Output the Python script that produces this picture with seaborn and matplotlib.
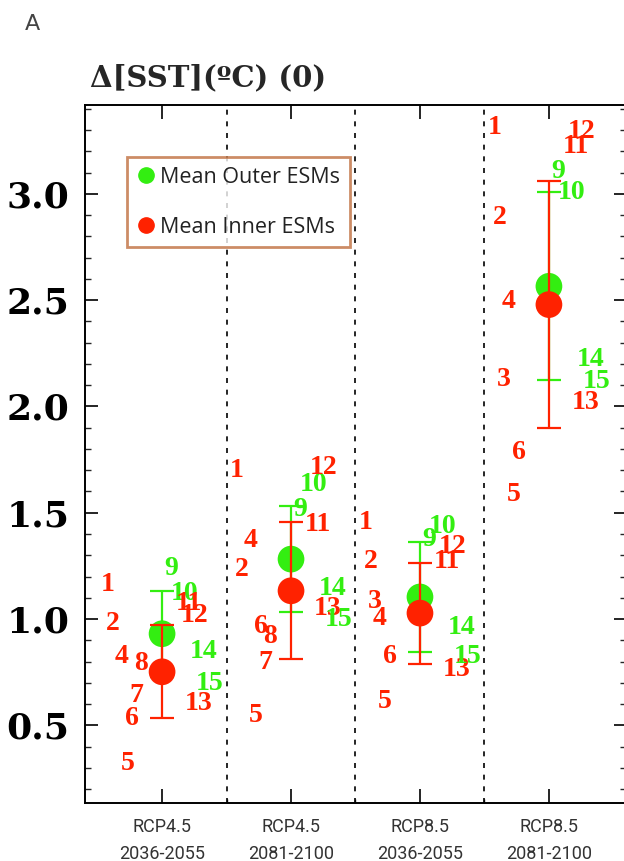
import numpy as np
import pandas as pd
import matplotlib
matplotlib.use("Agg")
import matplotlib.pyplot as plt
import seaborn as sns
from matplotlib.ticker import MultipleLocator, FixedLocator
from matplotlib.lines import Line2D

nan = np.nan

# --- data -------------------------------------------------------------
periods = ["RCP4.5\n2036-2055", "RCP4.5\n2081-2100",
           "RCP8.5\n2036-2055", "RCP8.5\n2081-2100"]

mean_outer = [0.931, 1.282, 1.104, 2.565]
sd_outer = [0.203, 0.248, 0.258, 0.443]
mean_inner = [0.752, 1.133, 1.028, 2.479]
sd_inner = [0.218, 0.323, 0.237, 0.582]

models = list(range(1, 16))
outer_models = [9, 10, 14, 15]

# SST change per ESM (models 1..15) for each period
sst_rcp45_mid = [1.161, 0.981, nan, 0.824, 0.322, 0.531, 0.640, 0.790,
                 1.240, 1.119, 1.072, 1.016, 0.605, 0.848, 0.699]
sst_rcp45_end = [1.699, 1.235, nan, 1.370, 0.545, 0.965, 0.796, 0.918,
                 1.514, 1.632, 1.444, 1.715, 1.052, 1.143, 0.997]
sst_rcp85_mid = [1.455, 1.271, 1.083, 1.005, 0.611, 0.824, nan, nan,
                 1.376, 1.436, 1.271, 1.339, 0.761, 0.962, 0.824]
sst_rcp85_end = [3.311, 2.887, 2.126, 2.495, 1.585, 1.783, nan, nan,
                 3.106, 3.005, 3.224, 3.295, 2.019, 2.220, 2.118]

yticks = [0.5, 1.0, 1.5, 2.0, 2.5, 3.0]

# --- layout / style ---------------------------------------------------
# horizontal placement of each model number around the period centre
label_dx = [-0.422, -0.384, -0.349, -0.315, -0.270, -0.234, -0.199, -0.163,
            0.074, 0.177, 0.208, 0.254, 0.282, 0.326, 0.367]

RED = "#ff2200"
GREEN = "#33ee11"

sns.set_theme(style="white")

fig = plt.figure(figsize=(6.24, 8.61), dpi=100)
ax = fig.add_axes([84.7 / 624, 1 - 803 / 861, (626.3 - 84.7) / 624, (803 - 104.5) / 861])

xpos = np.arange(len(periods))

df = pd.DataFrame({
    "x": np.concatenate([xpos, xpos]),
    "y": mean_outer + mean_inner,
    "group": ["Mean Outer ESMs"] * 4 + ["Mean Inner ESMs"] * 4,
})

# error bars (outer first so the inner bars sit on top)
ax.errorbar(xpos, mean_outer, yerr=sd_outer, fmt="none", ecolor=GREEN,
            elinewidth=1.6, capsize=8.5, capthick=1.6, zorder=3)
sns.scatterplot(data=df[df.group == "Mean Outer ESMs"], x="x", y="y",
                color=GREEN, s=370, edgecolor="none", ax=ax, zorder=4,
                legend=False)
ax.errorbar(xpos, mean_inner, yerr=sd_inner, fmt="none", ecolor=RED,
            elinewidth=1.6, capsize=8.5, capthick=1.6, zorder=5)
sns.scatterplot(data=df[df.group == "Mean Inner ESMs"], x="x", y="y",
                color=RED, s=370, edgecolor="none", ax=ax, zorder=6,
                legend=False)

# model numbers
for i, vals in enumerate([sst_rcp45_mid, sst_rcp45_end, sst_rcp85_mid, sst_rcp85_end]):
    for m, v, dx in zip(models, vals, label_dx):
        if np.isnan(v):
            continue
        ax.text(i + dx, v, str(m), color=GREEN if m in outer_models else RED,
                fontsize=20, fontweight="bold", family="Liberation Serif",
                ha="center", va="center", zorder=7)

# period separators
for xd in [0.5, 1.5, 2.5]:
    ax.axvline(xd, color="black", lw=1.2, ls=(0, (3, 4)), zorder=1)

ax.set_xlim(-0.6, 3.6)
ax.set_ylim(0.135, 3.42)

ax.set_xticks(xpos)
ax.set_xticklabels(periods, fontsize=13, family="Roboto", color="#333333",
                   linespacing=1.6)
ax.xaxis.set_minor_locator(FixedLocator([0.5, 1.5, 2.5]))
ax.set_yticks(yticks)
ax.set_yticklabels(["%.1f" % t for t in yticks], fontsize=26,
                   family="DejaVu Serif", fontweight="bold")
ax.yaxis.set_minor_locator(MultipleLocator(0.1))
ax.set_xlabel("")
ax.set_ylabel("")

ax.tick_params(axis="x", which="major", direction="in", length=10, width=1.2,
               top=True, bottom=True, pad=11, colors="black", labelcolor="#333333")
ax.tick_params(axis="x", which="minor", direction="in", length=3, width=1.0,
               top=False, bottom=True)
ax.tick_params(axis="y", which="major", direction="in", length=9, width=1.2,
               left=True, right=True, pad=11, colors="black")
ax.tick_params(axis="y", which="minor", direction="in", length=4.5, width=1.0,
               left=True, right=True)

for sp in ax.spines.values():
    sp.set_visible(True)
    sp.set_color("black")
    sp.set_linewidth(1.4)

# legend
handles = [
    Line2D([], [], marker="o", ls="none", color=GREEN, markersize=11),
    Line2D([], [], marker="o", ls="none", color=RED, markersize=11),
]
leg = ax.legend(handles, ["Mean Outer ESMs", "Mean Inner ESMs"],
                loc="upper left", bbox_to_anchor=(0.078, 0.925),
                borderaxespad=0, frameon=True, fancybox=False,
                prop={"family": "Open Sans", "size": 15.5},
                labelspacing=1.35, handletextpad=0.2, handlelength=0.9,
                borderpad=0.45)
leg.get_frame().set_edgecolor("#c07040")
leg.get_frame().set_linewidth(2)
for t in leg.get_texts():
    t.set_color("#222222")

# titles
fig.text(90 / 624, 1 - 86 / 861, "\u0394[SST](\u00baC) (0)", fontsize=21,
         fontweight="bold", family="DejaVu Serif", ha="left", va="baseline")
fig.text(25 / 624, 1 - 30 / 861, "A", fontsize=16, color="#444444",
         family="DejaVu Sans", ha="left", va="baseline")

fig.savefig("out.png", dpi=100)
